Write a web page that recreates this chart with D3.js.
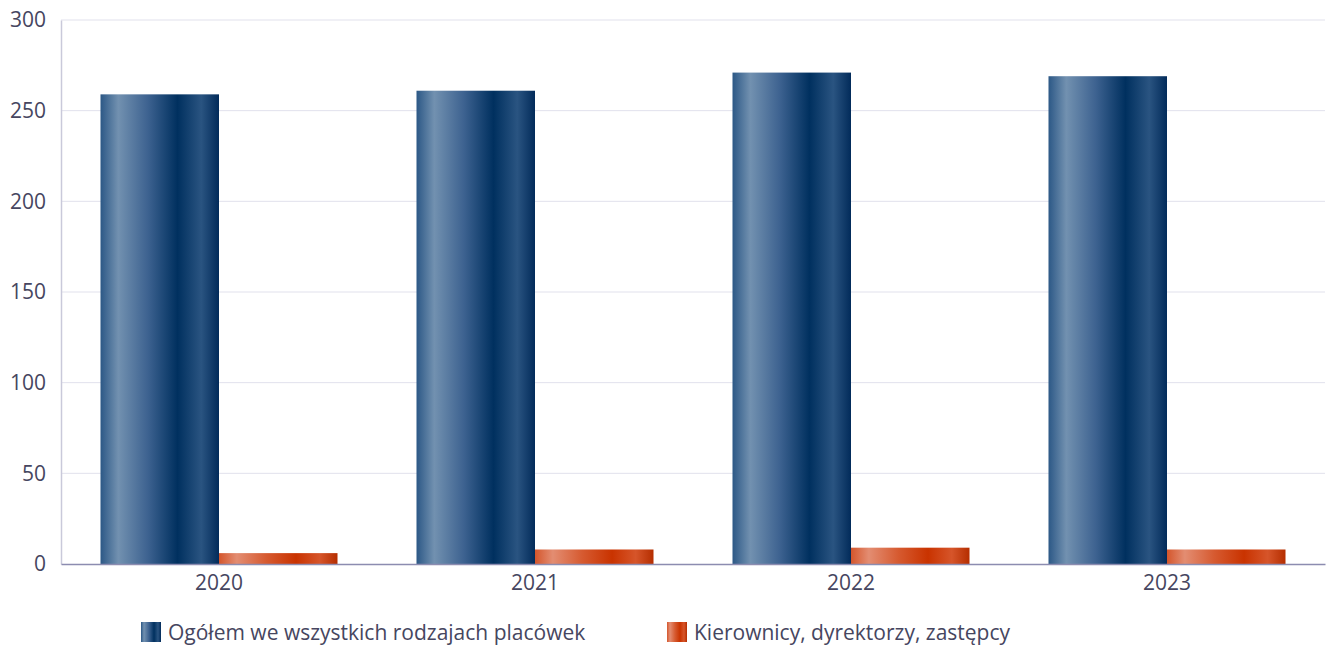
<!DOCTYPE html>
<html>
<head>
<meta charset="utf-8">
<script src="https://cdn.jsdelivr.net/npm/d3@7"></script>
<style>
  html, body { margin: 0; padding: 0; background: #fff; }
  svg { display: block; }
  text { font-family: "Open Sans", "Noto Sans", sans-serif; fill: #464660; }
</style>
</head>
<body>
<svg id="chart" width="1328" height="647"></svg>
<script>
const years = ["2020", "2021", "2022", "2023"];
const seriesNames = ["Ogółem we wszystkich rodzajach placówek", "Kierownicy, dyrektorzy, zastępcy"];
const totalValues = [259, 261, 271, 269];
const managerValues = [6, 8, 9, 8];
const yTicks = [0, 50, 100, 150, 200, 250, 300];

const W = 1328, H = 647;
const margin = { left: 61, right: 3, top: 20, bottom: 83 };
const svg = d3.select("#chart");

const x = d3.scaleBand().domain(years).range([margin.left, W - margin.right]).paddingInner(0.25).paddingOuter(0.125);
const xs = d3.scaleBand().domain([0, 1]).range([0, x.bandwidth()]);
const y = d3.scaleLinear().domain([0, 300]).range([H - margin.bottom, margin.top]);

const defs = svg.append("defs");
function grad(id, stops) {
  const g = defs.append("linearGradient").attr("id", id).attr("x1", "0%").attr("x2", "100%").attr("y1", "0%").attr("y2", "0%");
  stops.forEach(s => g.append("stop").attr("offset", s[0]).attr("stop-color", s[1]));
}
grad("gBlue", [["0%", "#2c5886"], ["15%", "#7291b0"], ["40%", "#3d6290"], ["65%", "#00305f"], ["85%", "#2a5481"], ["100%", "#022b5a"]]);
grad("gOrange", [["0%", "#d4562c"], ["15%", "#e38d72"], ["40%", "#d65a30"], ["65%", "#c93300"], ["85%", "#d6552a"], ["100%", "#b52e00"]]);
const fills = ["url(#gBlue)", "url(#gOrange)"];

// gridlines
svg.append("g")
  .selectAll("line").data(yTicks.filter(d => d > 0)).join("line")
  .attr("x1", margin.left).attr("x2", W - margin.right)
  .attr("y1", d => y(d)).attr("y2", d => y(d))
  .attr("stroke", "#e1e1ec").attr("stroke-width", 1);

// y axis
const yAxis = svg.append("g").attr("transform", `translate(${margin.left},0)`)
  .call(d3.axisLeft(y).tickValues(yTicks).tickSize(0).tickPadding(15));
yAxis.select(".domain").attr("stroke", "#c9c9da").attr("stroke-width", 1.5);
yAxis.selectAll("text").style("font-size", "21px").attr("fill", "#464660");

// bars
const series = [totalValues, managerValues];
series.forEach((vals, si) => {
  svg.append("g").selectAll("rect").data(years).join("rect")
    .attr("x", d => x(d) + xs(si))
    .attr("width", xs.bandwidth())
    .attr("y", (d, i) => y(vals[i]))
    .attr("height", (d, i) => y(0) - y(vals[i]))
    .attr("fill", fills[si]);
});

// x axis
const xAxis = svg.append("g").attr("transform", `translate(0,${y(0)})`)
  .call(d3.axisBottom(x).tickSize(0).tickPadding(11));
xAxis.select(".domain").attr("stroke", "#8c8cb0").attr("stroke-width", 1.5);
xAxis.selectAll("text").style("font-size", "21px").attr("fill", "#464660");

// legend
const legendX = [141, 667];
const lg = svg.append("g");
seriesNames.forEach((name, i) => {
  lg.append("rect").attr("x", legendX[i]).attr("y", 622).attr("width", 20).attr("height", 20).attr("fill", fills[i]);
  lg.append("text").attr("x", legendX[i] + 27).attr("y", 640).style("font-size", "21px").text(name);
});
</script>
</body>
</html>
